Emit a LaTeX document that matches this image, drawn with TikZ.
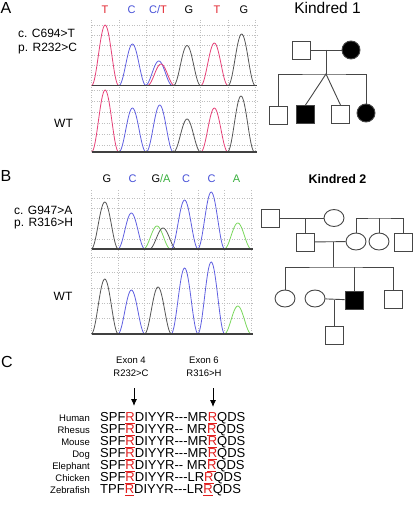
\documentclass[tikz,border=0pt]{standalone}
\usepackage{fontspec}
\setmainfont{Liberation Sans}
\usepackage{tikz}
\usetikzlibrary{shapes.geometric,arrows.meta}

\definecolor{tracered}{RGB}{230,65,120}
\definecolor{traceblue}{RGB}{95,95,225}
\definecolor{tracegreen}{RGB}{120,215,90}
\definecolor{traceblack}{RGB}{85,85,85}
\definecolor{basered}{RGB}{225,35,45}
\definecolor{baseblue}{RGB}{70,80,215}
\definecolor{basegreen}{RGB}{55,175,60}
\definecolor{mutred}{RGB}{225,30,30}
\definecolor{pedgray}{RGB}{70,70,70}

% one peak of a trace: colour, centre, baseline, top
\newcommand{\chrompeak}[4]{%
  \draw[#1, line width=0.8pt] plot[domain=-1:1, samples=31, smooth]
    ({#2+13.5*\x}, {#3-(#3-#4)*(0.5+0.5*cos(180*\x))});
}
\newcommand{\mut}{\textcolor{mutred}{\underline{R}}}
\newcommand{\hy}{\mbox{-}}

\tikzset{
  txt/.style={inner sep=0pt},
  panel/.style={txt, font=\fontsize{16}{18}\selectfont},
  lbl/.style={txt, font=\fontsize{12}{14}\selectfont},
  basecall/.style={txt, font=\fontsize{11}{13}\selectfont},
  gridln/.style={gray!50, dotted, line width=0.5pt},
  baseln/.style={black!75, line width=1.3pt},
  male/.style={draw=pedgray, line width=0.9pt, minimum size=18pt, inner sep=0pt, fill=white},
  female/.style={male, circle},
  female2/.style={draw=pedgray, line width=0.9pt, ellipse, minimum width=20pt, minimum height=17pt, inner sep=0pt},
  affected/.style={fill=black},
  pedln/.style={pedgray, line width=0.9pt},
  spname/.style={txt, font=\fontsize{9.5}{11}\selectfont},
  seqtxt/.style={txt, font=\fontsize{13}{15}\selectfont},
  mutarrow/.style={-{Latex[length=7pt,width=6pt]}, line width=0.9pt}
}

\begin{document}
\begin{tikzpicture}[x=1pt, y=-1pt]
  \useasboundingbox (0,0) rectangle (413,516);

  % Panel A
  \node[panel] (pA) at (6,8) {A};
  \node[lbl, anchor=west] (mutA1) at (18,33.5) {c. C694>T};
  \node[lbl, anchor=west] (mutA2) at (18,49) {p. R232>C};
  \node[lbl] (wtA) at (63.5,123.5) {WT};
  \node[basecall] (bA1) at (105,9.5) {\textcolor{basered}{T}};
  \node[basecall] (bA2) at (131.5,9.5) {\textcolor{baseblue}{C}};
  \node[basecall] (bA3) at (158,9.5) {\textcolor{baseblue}{C/}\textcolor{basered}{T}};
  \node[basecall] (bA4) at (189,9.5) {G};
  \node[basecall] (bA5) at (217,9.5) {\textcolor{basered}{T}};
  \node[basecall] (bA6) at (244,9.5) {G};

  \foreach \gx in {0,...,6}
    \draw[gridln] ({91.5+27.3*\gx},20) -- ({91.5+27.3*\gx},152);
  \foreach \gy in {25,35.5,45.5,55.5,65.5,75.5,90,101,112,123,134,145}
    \draw[gridln] (91.5,\gy) -- (257,\gy);

  % mutant trace
  \chrompeak{tracered}{105.15}{85.5}{25}
  \chrompeak{traceblue}{132.45}{85.5}{44}
  \chrompeak{traceblue}{158.8}{85.5}{61}
  \chrompeak{tracered}{161}{85.5}{64}
  \chrompeak{traceblack}{187.05}{85.5}{45.5}
  \chrompeak{tracered}{214.35}{85.5}{43}
  \chrompeak{traceblack}{241.65}{85.5}{34}
  % wild type trace
  \chrompeak{tracered}{105.15}{152}{90}
  \chrompeak{traceblue}{132.45}{152}{108}
  \chrompeak{traceblue}{159.75}{152}{105}
  \chrompeak{traceblack}{187.05}{152}{119}
  \chrompeak{tracered}{214.35}{152}{108}
  \chrompeak{traceblack}{241}{152}{96}
  \draw[baseln] (91.5,85.5) -- (257,85.5);
  \draw[baseln] (91.5,152) -- (257,152);

  % Kindred 1
  \node[txt, font=\fontsize{15.5}{18}\selectfont] (kin1) at (327.5,7.5) {Kindred 1};
  \node[male] (k1fa) at (301,50) {};
  \node[female, affected] (k1mo) at (351,50) {};
  \draw[pedln] (k1fa) -- (k1mo);
  \coordinate (k1mid) at (326,50);
  \coordinate (k1sib) at (326,74);
  \draw[pedln] (k1mid) -- (k1sib);
  \node[male] (k1c1) at (278.5,115) {};
  \node[male, affected] (k1c2) at (305.5,114.5) {};
  \node[male] (k1c3) at (340.5,114.5) {};
  \node[female, affected] (k1c4) at (366,113) {};
  \draw[pedln] (k1c1.north) |- (k1sib) -| (k1c4.north);
  \draw[pedln] (k1c2.north) -- (k1sib) -- (k1c3.north);

  % Panel B
  \node[panel] (pB) at (6,176) {B};
  \node[lbl, anchor=west] (mutB1) at (14,210) {c. G947>A};
  \node[lbl, anchor=west] (mutB2) at (14,224) {p. R316>H};
  \node[lbl] (wtB) at (63,296.5) {WT};
  \node[basecall] (bB1) at (107,179) {G};
  \node[basecall] (bB2) at (132.5,179) {\textcolor{baseblue}{C}};
  \node[basecall] (bB3) at (161,179) {G\textcolor{basegreen}{/A}};
  \node[basecall] (bB4) at (186,179) {\textcolor{baseblue}{C}};
  \node[basecall] (bB5) at (211.5,179) {\textcolor{baseblue}{C}};
  \node[basecall] (bB6) at (236.5,179) {\textcolor{basegreen}{A}};

  \foreach \gx in {0,...,6}
    \draw[gridln] ({91.5+26.6*\gx},190) -- ({91.5+26.6*\gx},334);
  \foreach \gy in {198,208,218,228.5,239,257,272.5,288,303,318.5}
    \draw[gridln] (91.5,\gy) -- (253,\gy);

  % mutant trace
  \chrompeak{traceblack}{104.8}{249}{202}
  \chrompeak{traceblue}{131.4}{249}{213}
  \chrompeak{tracegreen}{157}{249}{226}
  \chrompeak{traceblack}{163}{249}{228}
  \chrompeak{traceblue}{184.6}{249}{200}
  \chrompeak{traceblue}{211.2}{249}{192}
  \chrompeak{tracegreen}{237.8}{249}{223}
  % wild type trace
  \chrompeak{traceblack}{104.8}{334}{279}
  \chrompeak{traceblue}{131.4}{334}{290}
  \chrompeak{traceblack}{158}{334}{287}
  \chrompeak{traceblue}{184.6}{334}{268}
  \chrompeak{traceblue}{211.2}{334}{262}
  \chrompeak{tracegreen}{237.8}{334}{306}
  \draw[baseln] (91.5,249) -- (253,249);
  \draw[baseln] (91.5,334) -- (253,334);

  % Kindred 2
  \node[txt, font=\bfseries\fontsize{12.5}{15}\selectfont] (kin2) at (337.5,179.5) {Kindred 2};
  \node[male] (k2a1) at (270.5,218) {};
  \node[female2] (k2a2) at (334,218) {};
  \draw[pedln] (k2a1) -- (k2a2);
  \node[male] (k2b1) at (305,242) {};
  \node[female2] (k2b2) at (356,241.5) {};
  \node[female2] (k2b3) at (379,241.5) {};
  \node[male] (k2b4) at (403,242) {};
  \draw[pedln] (k2b1 |- k2a1) -- (k2b1);
  \draw[pedln] (k2b1) -- (k2b2);
  \coordinate (k2sib1) at (379,218);
  \draw[pedln] (k2b2.north) |- (k2sib1) -| (k2b4.north);
  \draw[pedln] (k2b3) -- (k2sib1);
  \coordinate (k2mid) at (333,241.5);
  \coordinate (k2sib2) at (333,267);
  \draw[pedln] (k2mid) -- (k2sib2);
  \node[female2] (k2c1) at (285,298.5) {};
  \node[female2] (k2c2) at (315,298.5) {};
  \node[male, affected] (k2c3) at (354,300) {};
  \node[male] (k2c4) at (393.5,299.5) {};
  \draw[pedln] (k2c1.north) |- (k2sib2) -| (k2c4.north);
  \draw[pedln] (k2c3) -- (k2c3 |- k2sib2);
  \draw[pedln] (k2c2) -- (k2c3);
  \node[male] (k2d1) at (334.5,335.5) {};
  \draw[pedln] (k2d1 |- k2c3) -- (k2d1);

  % Panel C
  \node[panel] (pC) at (7,362) {C};
  \node[txt, align=center, font=\fontsize{9.5}{13}\selectfont] (ex4) at (131,366.5) {Exon 4\\R232>C};
  \node[txt, align=center, font=\fontsize{9.5}{13}\selectfont] (ex6) at (204,366.5) {Exon 6\\R316>H};
  \coordinate (ar4a) at (134,388);
  \coordinate (ar4b) at (134,406);
  \coordinate (ar6a) at (213,388);
  \coordinate (ar6b) at (213,407);
  \draw[mutarrow] (ar4a) -- (ar4b);
  \draw[mutarrow] (ar6a) -- (ar6b);

  \foreach \sp/\sq [count=\i from 0] in {
      Human/SPF\mut DIYYR\hy\hy\hy MR\mut QDS,
      Rhesus/SPF\mut DIYYR\hy\hy{} MR\mut QDS,
      Mouse/SPF\mut DIYYR\hy\hy\hy MR\mut QDS,
      Dog/SPF\mut DIYYR\hy\hy\hy MR\mut QDS,
      Elephant/SPF\mut DIYYR\hy\hy{} MR\mut QDS,
      Chicken/SPF\mut DIYYR\hy\hy\hy LR\mut QDS,
      Zebrafish/TPF\mut DIYYR\hy\hy\hy LR\mut QDS}
  {
    \node[spname, anchor=base east] (sp\i) at (90,{421.5+12*\i}) {\sp};
    \node[seqtxt, anchor=base west] (sq\i) at (100,{421.5+12*\i}) {\sq};
  }
\end{tikzpicture}
\end{document}
